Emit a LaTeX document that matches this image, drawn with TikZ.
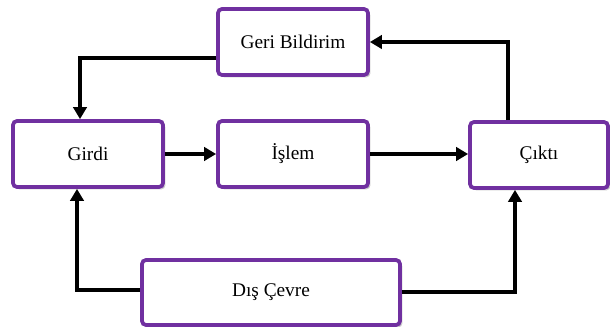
\documentclass[tikz,border=0pt]{standalone}
\usepackage{fontspec}
\setmainfont{Liberation Serif}
\usetikzlibrary{arrows.meta,shadows}

\definecolor{boxpurple}{RGB}{112,48,160}

\tikzset{every picture/.style={line width=0.75pt}}
\tikzset{
  stagebox/.style={draw=boxpurple, line width=2.8pt, fill=white, rounded corners=3pt,
    minimum height=49.5pt, inner sep=0.75pt,
    font=\fontsize{14.5}{17}\selectfont,
    drop shadow={opacity=0.4, shadow xshift=1.8pt, shadow yshift=-1.8pt}},
  flow/.style={line width=3.2pt, -{Triangle[length=9pt,width=10pt]}}
}

\begin{document}
\begin{tikzpicture}[x=0.75pt,y=0.75pt,yscale=-1,xscale=1]
\useasboundingbox (0,0) rectangle (610,327);

% Boxes
\node [stagebox, minimum width=112.5pt] (geri) at (293,42) {Geri Bildirim};
\node [stagebox, minimum width=112.5pt] (girdi) at (88,154) {Girdi};
\node [stagebox, minimum width=112.5pt] (islem) at (293,154) {İşlem};
\node [stagebox, minimum width=103.5pt] (cikti) at (539,155) {Çıktı};
\node [stagebox, minimum width=193.5pt, minimum height=48.75pt] (dis) at (271,292.5) {Dış Çevre};

% Arrows
\draw [flow] (girdi.east) -- (islem.west);
\draw [flow] (islem.east) -- (cikti.west |- islem.east);
\draw [flow] (geri.west |- 0,58) -| (girdi.north -| 80,0);
\draw [flow] (cikti.north -| 508,0) |- (geri.east);
\draw [flow] (dis.west |- 0,290) -| (girdi.south -| 77,0);
\draw [flow] (dis.east |- 0,292) -| (cikti.south -| 515,0);

\end{tikzpicture}
\end{document}
